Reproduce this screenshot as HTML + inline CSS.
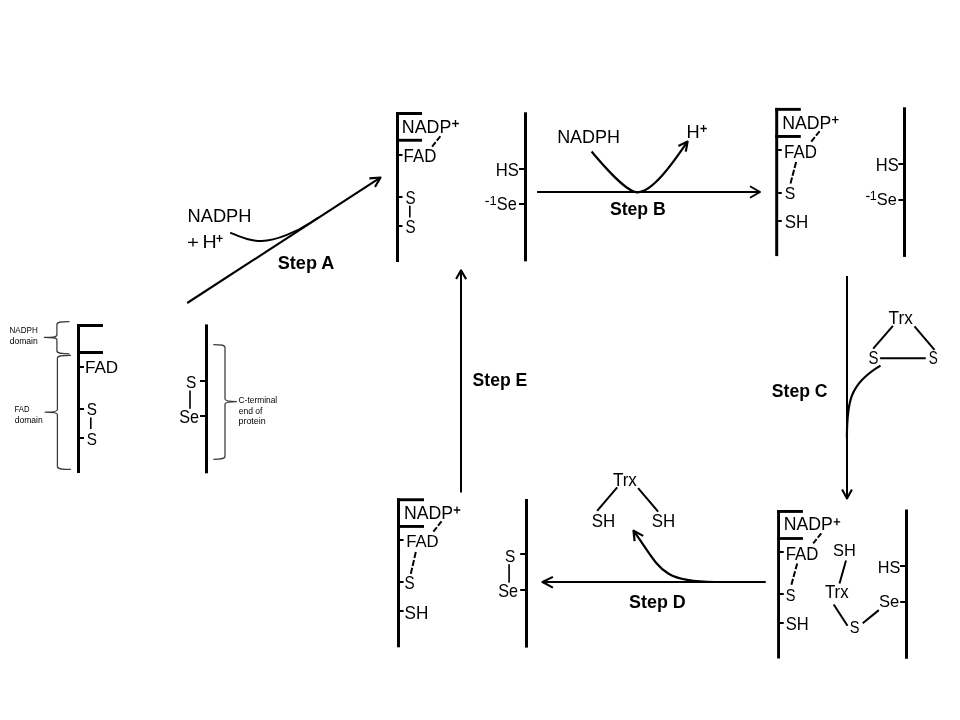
<!DOCTYPE html>
<html><head><meta charset="utf-8"><style>
html,body{margin:0;padding:0;background:#fff;}
body{width:960px;height:720px;overflow:hidden;}
svg{display:block;font-family:"Liberation Sans", sans-serif;will-change:transform;}
</style></head><body>
<svg width="960" height="720" viewBox="0 0 960 720">
<rect width="960" height="720" fill="#fff"/>
<rect x="77.00" y="324.00" width="3.00" height="149.00" fill="#000"/>
<rect x="77.00" y="324.00" width="26.00" height="3.00" fill="#000"/>
<rect x="77.00" y="351.00" width="26.00" height="3.00" fill="#000"/>
<rect x="80.00" y="366.00" width="4.00" height="2.00" fill="#000"/>
<text transform="translate(84.90 373.30) scale(1.0149 1)" font-size="16.86" fill="#000">FAD</text>
<rect x="80.00" y="408.00" width="4.00" height="2.00" fill="#000"/>
<text transform="translate(86.81 414.84) scale(0.9250 1)" font-size="16.53" fill="#000">S</text>
<rect x="90.00" y="417.50" width="1.60" height="11.50" fill="#000"/>
<rect x="80.00" y="437.00" width="4.00" height="2.00" fill="#000"/>
<text transform="translate(86.81 444.53) scale(0.8871 1)" font-size="17.23" fill="#000">S</text>
<text transform="translate(9.54 332.80) scale(0.9712 1)" font-size="8.30" fill="#000">NADPH</text>
<text transform="translate(9.64 344.00) scale(1.0367 1)" font-size="8.30" fill="#000">domain</text>
<text transform="translate(14.57 411.90) scale(0.9277 1)" font-size="8.30" fill="#000">FAD</text>
<text transform="translate(14.64 422.90) scale(1.0367 1)" font-size="8.30" fill="#000">domain</text>
<path d="M69.50 321.50 C59.90 321.50 56.90 322.10 56.90 324.50 L56.90 334.90 C56.90 336.80 53.90 337.40 44.30 337.40 C53.90 337.40 56.90 338.00 56.90 339.90 L56.90 350.80 C56.90 353.20 59.90 353.80 69.50 353.80" fill="none" stroke="#3a3a3a" stroke-width="1.25" stroke-linecap="butt" stroke-linejoin="round"/>
<path d="M70.90 355.30 C60.40 355.30 57.40 355.90 57.40 358.30 L57.40 409.70 C57.40 411.60 54.40 412.20 45.20 412.20 C54.40 412.20 57.40 412.80 57.40 414.70 L57.40 466.40 C57.40 468.80 60.40 469.40 70.90 469.40" fill="none" stroke="#3a3a3a" stroke-width="1.25" stroke-linecap="butt" stroke-linejoin="round"/>
<rect x="205.00" y="324.40" width="3.00" height="148.90" fill="#000"/>
<rect x="200.00" y="380.00" width="5.00" height="2.00" fill="#000"/>
<text transform="translate(186.00 387.63) scale(0.8972 1)" font-size="17.23" fill="#000">S</text>
<rect x="189.20" y="390.50" width="1.60" height="18.30" fill="#000"/>
<rect x="200.00" y="415.00" width="5.00" height="2.00" fill="#000"/>
<text transform="translate(179.26 422.52) scale(0.9051 1)" font-size="17.94" fill="#000">Se</text>
<path d="M213.30 344.60 C222.00 344.60 225.00 345.20 225.00 347.60 L225.00 399.10 C225.00 401.00 228.00 401.60 236.40 401.60 C228.00 401.60 225.00 402.20 225.00 404.10 L225.00 456.30 C225.00 458.70 222.00 459.30 213.30 459.30" fill="none" stroke="#3a3a3a" stroke-width="1.25" stroke-linecap="butt" stroke-linejoin="round"/>
<text transform="translate(238.58 402.80) scale(1.0080 1)" font-size="8.30" fill="#000">C-terminal</text>
<text transform="translate(238.64 413.75) scale(1.0336 1)" font-size="8.30" fill="#000">end of</text>
<text transform="translate(238.42 424.40) scale(1.0821 1)" font-size="8.30" fill="#000">protein</text>
<line x1="187.20" y1="303.00" x2="379.50" y2="178.20" stroke="#000" stroke-width="2.10" stroke-linecap="butt"/>
<path d="M369.4 178.4 L380.6 177.5 L375 186.9" fill="none" stroke="#000" stroke-width="2.10" stroke-linecap="butt" stroke-linejoin="round"/>
<text transform="translate(187.50 221.90) scale(1.0481 1)" font-size="17.44" fill="#000">NADPH</text>
<path d="M188.05 242.30H197.90M192.98 238.00V246.60" stroke="#000" stroke-width="1.30" fill="none"/>
<text transform="translate(202.38 247.70) scale(1.1290 1)" font-size="17.44" fill="#000">H</text>
<path d="M216.40 238.30H222.70M219.55 234.90V241.70" stroke="#000" stroke-width="1.30" fill="none"/>
<path d="M230.2 232.7 C241.4 237.2 249.1 241.0 261.5 241.0 C276.8 241.0 297.7 231.0 310.4 222.8 L318 217.9" fill="none" stroke="#000" stroke-width="1.90" stroke-linecap="butt" stroke-linejoin="round"/>
<text transform="translate(277.78 268.50) scale(1.0161 1)" font-size="17.81" font-weight="bold" fill="#000">Step A</text>
<rect x="396.00" y="112.00" width="3.00" height="150.00" fill="#000"/>
<rect x="396.00" y="112.00" width="26.00" height="3.00" fill="#000"/>
<rect x="396.00" y="138.80" width="26.00" height="2.90" fill="#000"/>
<text transform="translate(401.84 132.50) scale(1.0130 1)" font-size="17.59" fill="#000">NADP</text>
<path d="M452.20 123.50H458.80M455.50 120.00V127.00" stroke="#000" stroke-width="1.30" fill="none"/>
<line x1="440.40" y1="136.25" x2="432.10" y2="146.70" stroke="#000" stroke-width="2.00" stroke-linecap="butt" stroke-dasharray="5.72 1.90"/>
<rect x="399.00" y="154.00" width="3.50" height="2.00" fill="#000"/>
<text transform="translate(403.62 161.70) scale(0.9241 1)" font-size="18.17" fill="#000">FAD</text>
<rect x="399.00" y="196.00" width="3.50" height="2.00" fill="#000"/>
<text transform="translate(405.56 203.57) scale(0.8440 1)" font-size="18.01" fill="#000">S</text>
<rect x="409.00" y="205.60" width="1.60" height="11.90" fill="#000"/>
<rect x="399.00" y="225.00" width="3.50" height="2.00" fill="#000"/>
<text transform="translate(405.56 232.58) scale(0.8609 1)" font-size="17.66" fill="#000">S</text>
<rect x="524.00" y="112.30" width="3.00" height="149.00" fill="#000"/>
<rect x="519.00" y="168.00" width="5.00" height="2.00" fill="#000"/>
<text transform="translate(495.73 175.60) scale(0.9313 1)" font-size="17.88" fill="#000">HS</text>
<rect x="519.00" y="203.00" width="5.00" height="2.00" fill="#000"/>
<rect x="485.40" y="200.90" width="3.50" height="1.20" fill="#000"/>
<text transform="translate(489.61 204.50) scale(1.0638 1)" font-size="12.21" fill="#000">1</text>
<text transform="translate(496.86 210.20) scale(0.9282 1)" font-size="17.59" fill="#000">Se</text>
<line x1="537.00" y1="192.00" x2="759.00" y2="192.00" stroke="#000" stroke-width="2.00" stroke-linecap="butt"/>
<path d="M750 186.25 L760 192 L750 197.75" fill="none" stroke="#000" stroke-width="2.00" stroke-linecap="butt" stroke-linejoin="round"/>
<text transform="translate(557.13 143.00) scale(0.9896 1)" font-size="18.17" fill="#000">NADPH</text>
<text transform="translate(686.40 137.80) scale(1.0469 1)" font-size="17.44" fill="#000">H</text>
<path d="M700.40 128.50H706.80M703.60 125.10V131.90" stroke="#000" stroke-width="1.30" fill="none"/>
<path d="M591.6 151.6 C599.7 160.8 625.2 192.3 637.7 192.3 C654.2 192.3 678.7 154.2 686.5 143.2" fill="none" stroke="#000" stroke-width="2.20" stroke-linecap="butt" stroke-linejoin="round"/>
<path d="M678.4 145.9 L687.6 141.6 L685.8 151.6" fill="none" stroke="#000" stroke-width="2.20" stroke-linecap="butt" stroke-linejoin="round"/>
<text transform="translate(609.89 215.40) scale(1.0038 1)" font-size="17.59" font-weight="bold" fill="#000">Step B</text>
<rect x="775.20" y="107.90" width="3.00" height="148.20" fill="#000"/>
<rect x="775.20" y="107.90" width="25.60" height="2.90" fill="#000"/>
<rect x="775.20" y="135.00" width="25.60" height="2.90" fill="#000"/>
<text transform="translate(782.15 128.60) scale(0.9822 1)" font-size="18.02" fill="#000">NADP</text>
<path d="M832.00 119.70H838.60M835.30 116.20V123.20" stroke="#000" stroke-width="1.30" fill="none"/>
<line x1="819.60" y1="131.25" x2="811.25" y2="141.70" stroke="#000" stroke-width="2.00" stroke-linecap="butt" stroke-dasharray="5.74 1.90"/>
<rect x="778.20" y="149.00" width="3.55" height="2.00" fill="#000"/>
<text transform="translate(784.01 157.50) scale(0.9608 1)" font-size="17.59" fill="#000">FAD</text>
<line x1="796.10" y1="162.00" x2="790.50" y2="183.50" stroke="#000" stroke-width="2.00" stroke-linecap="butt" stroke-dasharray="6.14 1.90"/>
<rect x="778.20" y="192.00" width="3.55" height="2.00" fill="#000"/>
<text transform="translate(784.68 199.33) scale(0.9326 1)" font-size="16.95" fill="#000">S</text>
<rect x="778.20" y="220.00" width="3.55" height="2.00" fill="#000"/>
<text transform="translate(784.63 228.20) scale(0.9720 1)" font-size="17.44" fill="#000">SH</text>
<rect x="903.00" y="107.30" width="3.00" height="149.60" fill="#000"/>
<rect x="898.40" y="163.00" width="4.60" height="2.00" fill="#000"/>
<text transform="translate(875.75 170.80) scale(0.9300 1)" font-size="17.73" fill="#000">HS</text>
<rect x="898.40" y="199.00" width="4.60" height="2.00" fill="#000"/>
<rect x="866.10" y="195.90" width="3.50" height="1.20" fill="#000"/>
<text transform="translate(869.85 199.60) scale(1.0019 1)" font-size="12.50" fill="#000">1</text>
<text transform="translate(876.86 205.00) scale(0.9599 1)" font-size="17.01" fill="#000">Se</text>
<line x1="847.00" y1="276.00" x2="847.00" y2="497.50" stroke="#000" stroke-width="2.00" stroke-linecap="butt"/>
<path d="M842.1 489.6 L847 498.5 L851.9 489.6" fill="none" stroke="#000" stroke-width="2.10" stroke-linecap="butt" stroke-linejoin="round"/>
<text transform="translate(888.61 323.50) scale(0.9635 1)" font-size="17.88" fill="#000">Trx</text>
<line x1="892.90" y1="325.80" x2="873.20" y2="348.70" stroke="#000" stroke-width="2.00" stroke-linecap="butt"/>
<line x1="914.50" y1="326.40" x2="934.50" y2="349.80" stroke="#000" stroke-width="2.00" stroke-linecap="butt"/>
<text transform="translate(868.52 364.43) scale(0.8461 1)" font-size="17.66" fill="#000">S</text>
<text transform="translate(928.78 364.43) scale(0.7674 1)" font-size="17.66" fill="#000">S</text>
<line x1="880.10" y1="358.20" x2="925.70" y2="358.20" stroke="#000" stroke-width="2.00" stroke-linecap="butt"/>
<path d="M880.5 365.6 C849.6 383.7 846.9 402.1 846.9 437.7" fill="none" stroke="#000" stroke-width="2.20" stroke-linecap="butt" stroke-linejoin="round"/>
<text transform="translate(771.79 396.50) scale(0.9853 1)" font-size="17.88" font-weight="bold" fill="#000">Step C</text>
<rect x="777.10" y="510.00" width="2.90" height="148.50" fill="#000"/>
<rect x="777.10" y="510.00" width="25.80" height="2.90" fill="#000"/>
<rect x="777.10" y="537.10" width="25.80" height="2.80" fill="#000"/>
<text transform="translate(783.75 530.40) scale(1.0066 1)" font-size="17.59" fill="#000">NADP</text>
<path d="M833.60 521.80H840.20M836.90 518.30V525.30" stroke="#000" stroke-width="1.30" fill="none"/>
<line x1="821.25" y1="533.30" x2="813.20" y2="543.30" stroke="#000" stroke-width="2.00" stroke-linecap="butt" stroke-dasharray="5.47 1.90"/>
<rect x="780.00" y="551.00" width="3.75" height="2.00" fill="#000"/>
<text transform="translate(785.72 559.60) scale(0.9241 1)" font-size="18.17" fill="#000">FAD</text>
<line x1="797.20" y1="563.40" x2="791.40" y2="584.80" stroke="#000" stroke-width="2.00" stroke-linecap="butt" stroke-dasharray="6.12 1.90"/>
<rect x="780.00" y="593.00" width="3.75" height="2.00" fill="#000"/>
<text transform="translate(785.84 600.73) scale(0.8399 1)" font-size="17.37" fill="#000">S</text>
<rect x="780.00" y="622.00" width="3.75" height="2.00" fill="#000"/>
<text transform="translate(785.75 629.50) scale(0.9338 1)" font-size="17.73" fill="#000">SH</text>
<text transform="translate(832.96 556.40) scale(0.9811 1)" font-size="16.72" fill="#000">SH</text>
<line x1="846.00" y1="560.60" x2="839.50" y2="583.50" stroke="#000" stroke-width="2.00" stroke-linecap="butt"/>
<text transform="translate(824.92 598.40) scale(0.9397 1)" font-size="17.88" fill="#000">Trx</text>
<line x1="833.70" y1="604.50" x2="847.50" y2="625.80" stroke="#000" stroke-width="2.00" stroke-linecap="butt"/>
<text transform="translate(849.84 632.63) scale(0.8399 1)" font-size="17.37" fill="#000">S</text>
<line x1="862.70" y1="623.20" x2="878.80" y2="610.10" stroke="#000" stroke-width="2.00" stroke-linecap="butt"/>
<rect x="905.00" y="509.50" width="3.00" height="149.25" fill="#000"/>
<text transform="translate(877.87 573.00) scale(0.9477 1)" font-size="17.15" fill="#000">HS</text>
<rect x="900.00" y="565.00" width="5.00" height="2.00" fill="#000"/>
<text transform="translate(879.05 607.00) scale(0.9755 1)" font-size="17.01" fill="#000">Se</text>
<rect x="900.20" y="601.00" width="4.80" height="2.00" fill="#000"/>
<line x1="543.50" y1="582.00" x2="765.70" y2="582.00" stroke="#000" stroke-width="2.00" stroke-linecap="butt"/>
<path d="M552.9 576.9 L542.5 582 L552.9 587.6" fill="none" stroke="#000" stroke-width="2.10" stroke-linecap="butt" stroke-linejoin="round"/>
<path d="M715.0 582 C660.5 582 660.5 568.4 634.2 531.7" fill="none" stroke="#000" stroke-width="2.20" stroke-linecap="butt" stroke-linejoin="round"/>
<path d="M643.2 535.9 L633.5 530.7 L634.6 541.1" fill="none" stroke="#000" stroke-width="2.20" stroke-linecap="butt" stroke-linejoin="round"/>
<text transform="translate(612.92 486.00) scale(0.9004 1)" font-size="18.90" fill="#000">Trx</text>
<text transform="translate(591.73 527.20) scale(0.9332 1)" font-size="18.17" fill="#000">SH</text>
<text transform="translate(651.63 527.20) scale(0.9310 1)" font-size="18.17" fill="#000">SH</text>
<line x1="617.20" y1="487.30" x2="597.20" y2="510.80" stroke="#000" stroke-width="2.00" stroke-linecap="butt"/>
<line x1="638.10" y1="488.10" x2="658.10" y2="511.60" stroke="#000" stroke-width="2.00" stroke-linecap="butt"/>
<text transform="translate(629.08 607.50) scale(1.0174 1)" font-size="17.59" font-weight="bold" fill="#000">Step D</text>
<rect x="397.00" y="498.30" width="3.00" height="149.00" fill="#000"/>
<rect x="397.00" y="498.30" width="27.00" height="2.90" fill="#000"/>
<rect x="397.00" y="525.00" width="27.00" height="2.90" fill="#000"/>
<text transform="translate(403.95 518.70) scale(0.9983 1)" font-size="17.73" fill="#000">NADP</text>
<path d="M453.70 510.00H460.30M457.00 506.50V513.50" stroke="#000" stroke-width="1.30" fill="none"/>
<line x1="441.50" y1="521.30" x2="433.40" y2="531.70" stroke="#000" stroke-width="2.00" stroke-linecap="butt" stroke-dasharray="5.64 1.90"/>
<rect x="400.00" y="539.00" width="3.60" height="2.00" fill="#000"/>
<text transform="translate(406.13 547.30) scale(0.9927 1)" font-size="16.86" fill="#000">FAD</text>
<line x1="415.80" y1="552.00" x2="410.80" y2="573.90" stroke="#000" stroke-width="2.00" stroke-linecap="butt" stroke-dasharray="6.22 1.90"/>
<rect x="400.00" y="581.00" width="3.60" height="2.00" fill="#000"/>
<text transform="translate(404.61 589.43) scale(0.8658 1)" font-size="17.66" fill="#000">S</text>
<rect x="400.00" y="610.00" width="3.60" height="2.00" fill="#000"/>
<text transform="translate(404.52 618.60) scale(0.9462 1)" font-size="18.17" fill="#000">SH</text>
<rect x="525.00" y="499.00" width="3.00" height="148.60" fill="#000"/>
<rect x="520.20" y="553.00" width="4.80" height="2.00" fill="#000"/>
<text transform="translate(504.90 561.73) scale(0.8899 1)" font-size="17.37" fill="#000">S</text>
<rect x="508.30" y="564.20" width="1.60" height="18.50" fill="#000"/>
<text transform="translate(498.16 597.00) scale(0.9156 1)" font-size="17.73" fill="#000">Se</text>
<rect x="520.20" y="589.00" width="4.80" height="2.00" fill="#000"/>
<line x1="461.00" y1="492.50" x2="461.00" y2="271.50" stroke="#000" stroke-width="2.00" stroke-linecap="butt"/>
<path d="M456.1 279.1 L461 270.3 L466.1 279.1" fill="none" stroke="#000" stroke-width="2.10" stroke-linecap="butt" stroke-linejoin="round"/>
<text transform="translate(472.59 385.50) scale(0.9656 1)" font-size="18.17" font-weight="bold" fill="#000">Step E</text>
</svg>
</body></html>
